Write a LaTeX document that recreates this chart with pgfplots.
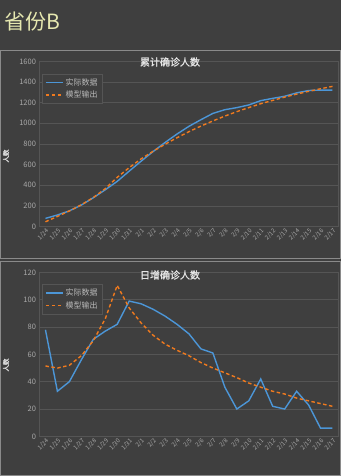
\documentclass[border=0pt]{standalone}
\usepackage{pgfplots}
\pgfplotsset{compat=1.18}
\usepackage{fontspec}
\setmainfont{Noto Sans CJK SC}
\newfontfamily\fbold[FakeBold=1.2]{Noto Sans CJK SC}
\definecolor{bg}{HTML}{3F3F3F}
\definecolor{panelline}{HTML}{8A8A8A}
\definecolor{gridc}{HTML}{555555}
\definecolor{tickc}{HTML}{A8A8A8}
\definecolor{blueS}{HTML}{4C96D7}
\definecolor{orangeS}{HTML}{F07A1E}
\definecolor{titley}{HTML}{E6E8B0}
\pgfplotsset{
  mystyle/.style={
    scale only axis, width=299pt,
    xmin=-0.5, xmax=24.5, ymin=0,
    xtick={0,...,24},
    xticklabels={1/24,1/25,1/26,1/27,1/28,1/29,1/30,1/31,2/1,2/2,2/3,2/4,2/5,2/6,2/7,2/8,2/9,2/10,2/11,2/12,2/13,2/14,2/15,2/16,2/17},
    x tick label style={rotate=45, anchor=north east, font=\fontsize{6}{7}\selectfont, text=tickc, inner sep=1pt},
    y tick label style={font=\fontsize{7.5}{8}\selectfont, text=tickc},
    /pgf/number format/assume math mode=true,
    /pgf/number format/1000 sep={},
    major tick length=0pt,
    ymajorgrids, grid style={gridc, line width=0.6pt},
    axis line style={draw=gridc, line width=0.6pt},
    axis background/.style={fill=bg},
    legend cell align=left,
    legend style={draw=gridc, fill=bg, text=tickc!80!white, font=\fontsize{8}{10}\selectfont, row sep=0pt, inner sep=2.5pt},
  },
  actual/.style={blueS, line width=1.4pt, mark=none},
  model/.style={orangeS, line width=1.4pt, dash pattern=on 3.5pt off 2.5pt, mark=none},
}
\begin{document}
\begin{tikzpicture}[x=1pt,y=1pt]
\fill[bg] (0,0) rectangle (341,476);
\node[anchor=west, text=titley, font=\fontsize{21}{24}\selectfont, inner sep=0pt] at (4,454) {省份B};
\draw[panelline, line width=0.8pt] (0.5,218) rectangle (340.5,426);
\draw[panelline, line width=0.8pt] (0.5,0.5) rectangle (340.5,215);

\begin{axis}[mystyle, at={(33,242)}, anchor=south west, height=165pt,
  ymax=1600, ytick={0,200,...,1600},
  legend style={at={(0.01,0.925)}, anchor=north west}]
\addplot[actual] coordinates {(0,78)(1,111)(2,151)(3,207)(4,278)(5,355)(6,437)(7,536)(8,633)(9,726)(10,814)(11,896)(12,971)(13,1035)(14,1096)(15,1132)(16,1152)(17,1178)(18,1220)(19,1242)(20,1262)(21,1295)(22,1318)(23,1322)(24,1322)};
\addlegendentry{实际数据}
\addplot[model] coordinates {(0,45)(1,97)(2,150)(3,210)(4,280)(5,366)(6,476)(7,570)(8,655)(9,729)(10,797)(11,860)(12,919)(13,973)(14,1023)(15,1070)(16,1113)(17,1152)(18,1190)(19,1222)(20,1254)(21,1283)(22,1310)(23,1335)(24,1358)};
\addlegendentry{模型输出}
\end{axis}

\begin{axis}[mystyle, at={(33,29)}, anchor=south west, height=164pt,
  ymax=120, ytick={0,20,...,120},
  legend style={at={(0.01,0.927)}, anchor=north west}]
\addplot[actual] coordinates {(0,78)(1,33)(2,40)(3,56)(4,71)(5,77)(6,82)(7,99)(8,97)(9,93)(10,88)(11,82)(12,75)(13,64)(14,61)(15,36)(16,20)(17,26)(18,42)(19,22)(20,20)(21,33)(22,23)(23,6)(24,6)};
\addlegendentry{实际数据}
\addplot[model] coordinates {(0,51.5)(1,50)(2,52)(3,59)(4,70)(5,86)(6,110.5)(7,94)(8,83)(9,74)(10,67.5)(11,63)(12,59)(13,54)(14,50)(15,46.5)(16,43)(17,39)(18,36)(19,33)(20,31)(21,28)(22,26)(23,24)(24,22)};
\addlegendentry{模型输出}
\end{axis}

\node[text=white!90!black, font=\fbold\fontsize{10}{11}\selectfont, inner sep=0pt] at (170,414) {累计确诊人数};
\node[text=white!90!black, font=\fbold\fontsize{10}{11}\selectfont, inner sep=0pt] at (170,201) {日增确诊人数};
\node[rotate=90, text=white!85!black, font=\fbold\fontsize{6.5}{7}\selectfont, inner sep=0pt] at (6,320) {人数};
\node[rotate=90, text=white!85!black, font=\fbold\fontsize{6.5}{7}\selectfont, inner sep=0pt] at (6,111) {人数};
\end{tikzpicture}
\end{document}
